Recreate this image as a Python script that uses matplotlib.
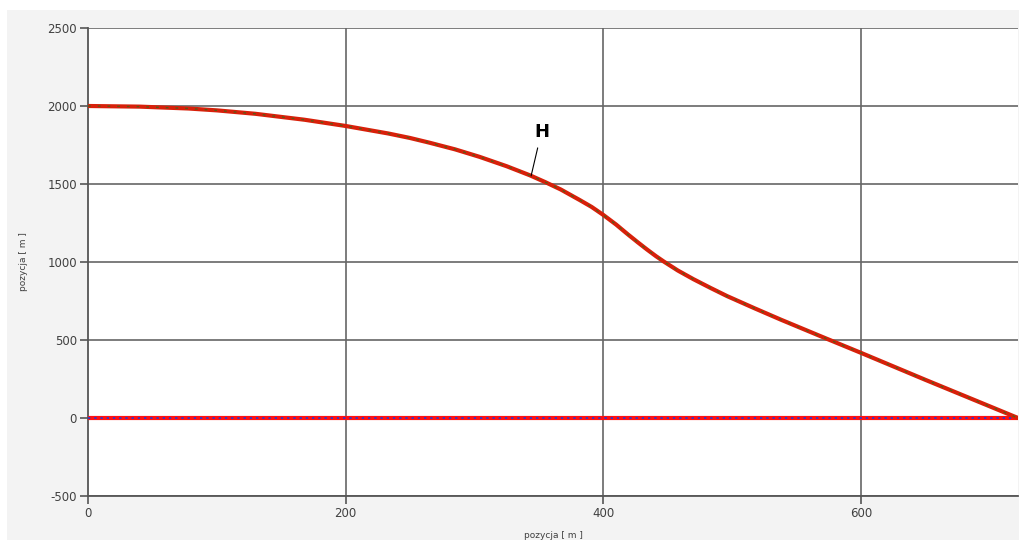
import numpy as np
import matplotlib
matplotlib.use("Agg")
import matplotlib.pyplot as plt
from matplotlib.patches import Rectangle

plt.rcParams["axes.unicode_minus"] = False

# trajektoria: pozycja pozioma [m] i wysokosc H [m]
poz_x = [0, 40, 78, 100, 130, 168, 200, 233, 250, 265, 285, 304, 325, 343, 355,
         367, 382, 391, 400, 410, 419, 427, 434, 441, 447, 458, 470, 483, 496,
         517, 538, 570, 600, 650, 700, 722]
wys_h = [2000, 1996, 1984, 1972, 1950, 1912, 1872, 1824, 1795, 1765, 1722, 1674, 1614, 1556, 1512,
         1465, 1396, 1353, 1302, 1240, 1178, 1125, 1080, 1037, 1003, 945, 890, 835, 782,
         705, 630, 520, 418, 245, 75, 0]

# linia zerowa (poziom terenu)
ziemia_x = [0, 722]
ziemia_y = [0, 0]

x_ticks = [0, 200, 400, 600]
y_ticks = [-500, 0, 500, 1000, 1500, 2000, 2500]

fig = plt.figure(figsize=(10.29, 5.42), dpi=100)
fig.patch.set_facecolor("white")

# szare tlo kontrolki wykresu
tlo = Rectangle((7 / 1029, 2 / 542), 1012 / 1029, 530 / 542,
                transform=fig.transFigure, facecolor="#f3f3f3",
                edgecolor="none", zorder=-5)
fig.add_artist(tlo)

ax = fig.add_axes([88 / 1029, 1 - 496 / 542, 930 / 1029, 468 / 542])
ax.set_zorder(2)
ax.set_facecolor("white")

grid_col = "#666666"
for v in x_ticks[1:]:
    ax.axvline(v, color=grid_col, lw=1.2, zorder=1)
for v in y_ticks:
    ax.axhline(v, color=grid_col, lw=1.2, zorder=1)

ax.plot(ziemia_x, ziemia_y, color="#ff1010", lw=3.0, solid_capstyle="butt", zorder=3)
ax.plot(ziemia_x, ziemia_y, color="#4030c0", lw=1.4, ls=(0, (1.2, 2.0)), zorder=4)

ax.plot(poz_x, wys_h, color="#d8200a", lw=3.0, solid_joinstyle="round",
        solid_capstyle="round", zorder=5)
ax.plot(poz_x, wys_h, color="#3a6a18", lw=1.0, ls=(0, (2, 5)), alpha=0.8, zorder=6)

ax.annotate("H", xy=(344, 1552), xytext=(352, 1833), ha="center", va="center",
            fontsize=13, fontweight="bold", color="black",
            arrowprops=dict(arrowstyle="-", color="black", lw=0.8,
                            shrinkA=3, shrinkB=0), zorder=7)

ax.set_xlim(0, 722)
ax.set_ylim(-500, 2500)
ax.set_xticks(x_ticks)
ax.set_yticks(y_ticks)

for s in ["top", "right"]:
    ax.spines[s].set_visible(False)
for s in ["left", "bottom"]:
    ax.spines[s].set_color("#555555")
    ax.spines[s].set_linewidth(1.3)

ax.tick_params(axis="both", direction="out", length=6, width=1.2,
               color="#555555", labelsize=8.5, labelcolor="#404040", pad=2)

ax.set_xlabel("pozycja [ m ]", fontsize=6.5, color="#404040", labelpad=8)
ax.set_ylabel("pozycja [ m ]", fontsize=6.5, color="#404040", labelpad=14)

fig.savefig("out.png", dpi=100, facecolor=fig.get_facecolor())
